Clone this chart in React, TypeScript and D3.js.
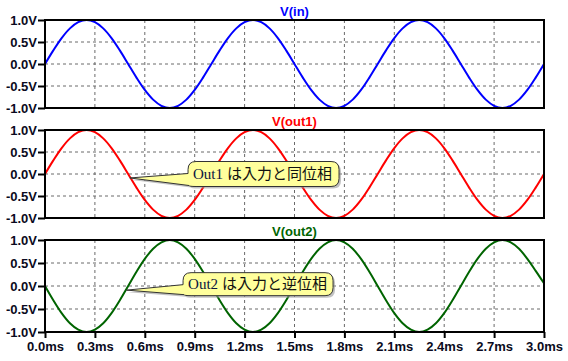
import React, { useEffect, useRef } from 'react';
import * as d3 from 'd3';

const timeMs = [
  0, 0.05, 0.1, 0.15, 0.2, 0.25, 0.3, 0.35, 0.4, 0.45,
  0.5, 0.55, 0.6, 0.65, 0.7, 0.75, 0.8, 0.85, 0.9, 0.95,
  1.0, 1.05, 1.1, 1.15, 1.2, 1.25, 1.3, 1.35, 1.4, 1.45,
  1.5, 1.55, 1.6, 1.65, 1.7, 1.75, 1.8, 1.85, 1.9, 1.95,
  2.0, 2.05, 2.1, 2.15, 2.2, 2.25, 2.3, 2.35, 2.4, 2.45,
  2.5, 2.55, 2.6, 2.65, 2.7, 2.75, 2.8, 2.85, 2.9, 2.95,
  3.0,
];

const vIn = [
  0, 0.31, 0.59, 0.81, 0.95, 1.0, 0.95, 0.81, 0.59, 0.31,
  0, -0.31, -0.59, -0.81, -0.95, -1.0, -0.95, -0.81, -0.59, -0.31,
  0, 0.31, 0.59, 0.81, 0.95, 1.0, 0.95, 0.81, 0.59, 0.31,
  0, -0.31, -0.59, -0.81, -0.95, -1.0, -0.95, -0.81, -0.59, -0.31,
  0, 0.31, 0.59, 0.81, 0.95, 1.0, 0.95, 0.81, 0.59, 0.31,
  0, -0.31, -0.59, -0.81, -0.95, -1.0, -0.95, -0.81, -0.59, -0.31,
  0,
];

const vOut1 = [
  0, 0.31, 0.59, 0.81, 0.95, 1.0, 0.95, 0.81, 0.59, 0.31,
  0, -0.31, -0.59, -0.81, -0.95, -1.0, -0.95, -0.81, -0.59, -0.31,
  0, 0.31, 0.59, 0.81, 0.95, 1.0, 0.95, 0.81, 0.59, 0.31,
  0, -0.31, -0.59, -0.81, -0.95, -1.0, -0.95, -0.81, -0.59, -0.31,
  0, 0.31, 0.59, 0.81, 0.95, 1.0, 0.95, 0.81, 0.59, 0.31,
  0, -0.31, -0.59, -0.81, -0.95, -1.0, -0.95, -0.81, -0.59, -0.31,
  0,
];

const vOut2 = [
  0, -0.31, -0.59, -0.81, -0.95, -1.0, -0.95, -0.81, -0.59, -0.31,
  0, 0.31, 0.59, 0.81, 0.95, 1.0, 0.95, 0.81, 0.59, 0.31,
  0, -0.31, -0.59, -0.81, -0.95, -1.0, -0.95, -0.81, -0.59, -0.31,
  0, 0.31, 0.59, 0.81, 0.95, 1.0, 0.95, 0.81, 0.59, 0.31,
  0, -0.31, -0.59, -0.81, -0.95, -1.0, -0.95, -0.81, -0.59, -0.31,
  0, 0.31, 0.59, 0.81, 0.95, 1.0, 0.95, 0.81, 0.59, 0.33,
  0.06,
];

const seriesNames = ['V(in)', 'V(out1)', 'V(out2)'];
const xTicks = [0, 0.3, 0.6, 0.9, 1.2, 1.5, 1.8, 2.1, 2.4, 2.7, 3.0];
const yTicks = [1, 0.5, 0, -0.5, -1];

const noteLabels = ['Out1', 'Out2'];
const noteTexts = ['は入力と同位相', 'は入力と逆位相'];

const W = 568;
const H = 361;
const LEFT = 45;
const RIGHT = 544;
const LABEL_FONT = '"Liberation Sans", Arial, sans-serif';

const panels = [
  { values: vIn, color: '#0000ff', top: 20, bottom: 108 },
  { values: vOut1, color: '#ff0000', top: 130, bottom: 218 },
  { values: vOut2, color: '#006400', top: 240, bottom: 332 },
];

// tip and box anchor in data units (ms, V), box size in px
const notes = [
  { panel: 1, tip: [0.51, -0.09], boxT: 0.86, boxV: 0.0, w: 151, h: 25 },
  { panel: 2, tip: [0.49, -0.09], boxT: 0.83, boxV: 0.04, w: 150, h: 23 },
];

function calloutPath(x0: number, y0: number, w: number, h: number, tx: number, ty: number) {
  const x1 = x0 + w;
  const y1 = y0 + h;
  const r = 8;
  const a1 = y0 + 12;
  return `M${x0 + r},${y0} H${x1 - r} Q${x1},${y0} ${x1},${y0 + r} V${y1 - r} Q${x1},${y1} ${x1 - r},${y1}` +
    ` H${x0 + r} Q${x0 + 1},${y1} ${x0 + 1},${y1 - 1} L${tx},${ty} L${x0},${a1} V${y0 + r} Q${x0},${y0} ${x0 + r},${y0} Z`;
}

export default function App() {
  const ref = useRef<SVGSVGElement>(null);

  useEffect(() => {
    const svg = d3.select(ref.current);
    svg.selectAll('*').remove();

    const x = d3.scaleLinear().domain([0, 3]).range([LEFT, RIGHT]);

    const yScales = panels.map((p) => d3.scaleLinear().domain([-1, 1]).range([p.bottom, p.top]));

    panels.forEach((p, i) => {
      const y = yScales[i];
      const g = svg.append('g');

      // grid
      g.selectAll('.hgrid')
        .data([0.5, 0, -0.5])
        .enter()
        .append('line')
        .attr('x1', LEFT)
        .attr('x2', RIGHT)
        .attr('y1', (d) => y(d))
        .attr('y2', (d) => y(d))
        .attr('stroke', '#6a6a6a')
        .attr('stroke-dasharray', '3,3');

      g.selectAll('.vgrid')
        .data(xTicks.slice(1, -1))
        .enter()
        .append('line')
        .attr('x1', (d) => x(d))
        .attr('x2', (d) => x(d))
        .attr('y1', p.top)
        .attr('y2', p.bottom)
        .attr('stroke', '#6a6a6a')
        .attr('stroke-dasharray', '3,3');

      // trace
      const line = d3.line<number>()
        .x((_, k) => x(timeMs[k]))
        .y((d) => y(d))
        .curve(d3.curveCatmullRom);

      g.append('path')
        .datum(p.values)
        .attr('d', line)
        .attr('fill', 'none')
        .attr('stroke', p.color)
        .attr('stroke-width', 2);

      // frame
      g.append('rect')
        .attr('x', LEFT)
        .attr('y', p.top)
        .attr('width', RIGHT - LEFT)
        .attr('height', p.bottom - p.top)
        .attr('fill', 'none')
        .attr('stroke', '#000')
        .attr('stroke-width', 2);

      // y axis
      const yAxis = g.append('g')
        .attr('transform', `translate(${LEFT},0)`)
        .call(d3.axisLeft(y)
          .tickValues(yTicks)
          .tickSize(7)
          .tickPadding(1)
          .tickFormat((d) => `${(d as number).toFixed(1)}V`));
      yAxis.select('.domain').remove();
      yAxis.selectAll('line').attr('stroke', '#000').attr('stroke-width', 2);
      yAxis.selectAll('text')
        .attr('font-family', LABEL_FONT)
        .attr('font-weight', 'bold')
        .attr('font-size', 13)
        .attr('fill', '#0a0a20');

      // title
      g.append('text')
        .attr('x', (LEFT + RIGHT) / 2)
        .attr('y', p.top - 4)
        .attr('text-anchor', 'middle')
        .attr('font-family', LABEL_FONT)
        .attr('font-weight', 'bold')
        .attr('font-size', 13)
        .attr('fill', p.color)
        .text(seriesNames[i]);

      if (i === panels.length - 1) {
        const xAxis = g.append('g')
          .attr('transform', `translate(0,${p.bottom})`)
          .call(d3.axisBottom(x)
            .tickValues(xTicks)
            .tickSize(6)
            .tickPadding(4)
            .tickFormat((d) => `${(d as number).toFixed(1)}ms`));
        xAxis.select('.domain').remove();
        xAxis.selectAll('line').attr('stroke', '#000').attr('stroke-width', 2);
        xAxis.selectAll('text')
          .attr('font-family', LABEL_FONT)
          .attr('font-weight', 'bold')
          .attr('font-size', 13)
          .attr('fill', '#0a0a20');
      }
    });

    // callouts
    notes.forEach((n, i) => {
      const y = yScales[n.panel];
      const bx = x(n.boxT);
      const by = y(n.boxV) - n.h / 2;
      const tx = x(n.tip[0]);
      const ty = y(n.tip[1]);
      const d = calloutPath(bx, by, n.w, n.h, tx, ty);
      const g = svg.append('g');
      g.append('path')
        .attr('d', d)
        .attr('transform', 'translate(2,2)')
        .attr('fill', '#9a9a9a')
        .attr('opacity', 0.6);
      g.append('path')
        .attr('d', d)
        .attr('fill', '#ffff9c')
        .attr('stroke', '#333')
        .attr('stroke-width', 1);
      const t = g.append('text')
        .attr('x', bx + 5)
        .attr('y', by + n.h / 2 + 5)
        .attr('font-size', 15);
      t.append('tspan')
        .attr('font-family', '"Liberation Serif", "Times New Roman", serif')
        .attr('fill', '#0a1440')
        .text(noteLabels[i]);
      t.append('tspan')
        .attr('font-family', '"Noto Sans CJK JP", sans-serif')
        .attr('fill', '#111')
        .attr('dx', 4)
        .text(noteTexts[i]);
    });
  }, []);

  return (
    <svg
      ref={ref}
      width={W}
      height={H}
      style={{ position: 'absolute', left: 0, top: 0, background: '#fff' }}
    />
  );
}
